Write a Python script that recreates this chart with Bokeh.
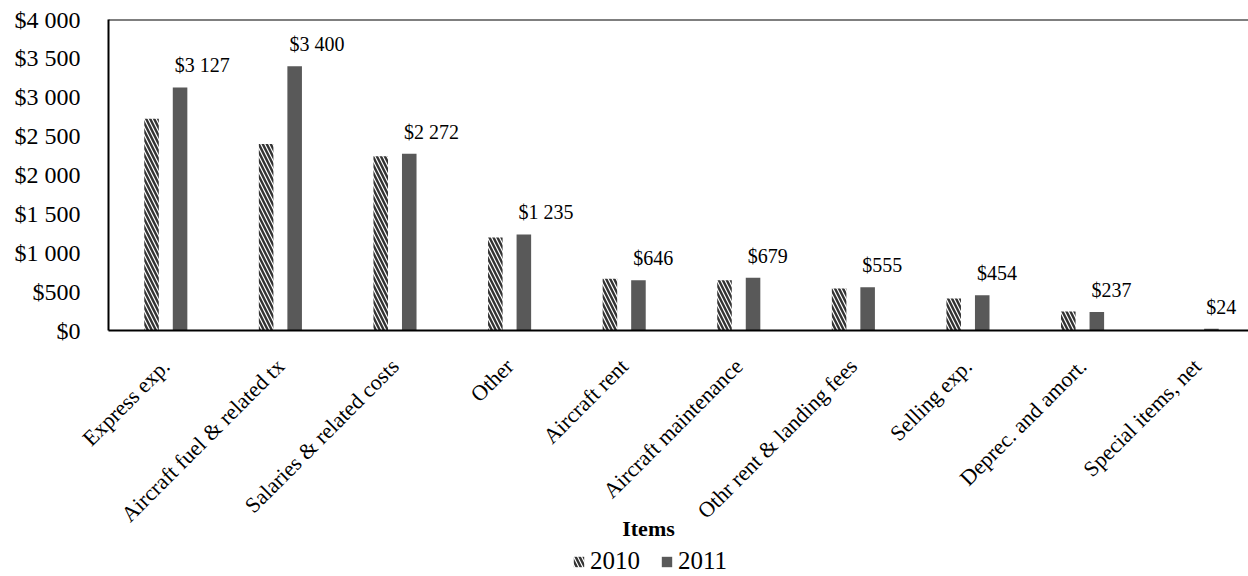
import math

from bokeh.core.properties import value
from bokeh.embed import file_html
from bokeh.layouts import column
from bokeh.models import (ColumnDataSource, FixedTicker, Label, Legend,
                          LegendItem, Span)
from bokeh.plotting import figure
from bokeh.resources import INLINE
from bokeh.transform import dodge

# Operating expense items (in $ millions)
items = [
    "Express exp.",
    "Aircraft fuel & related tx",
    "Salaries & related costs",
    "Other",
    "Aircraft rent",
    "Aircraft maintenance",
    "Othr rent & landing fees",
    "Selling exp.",
    "Deprec. and amort.",
    "Special items, net",
]
values_2010 = [2725, 2400, 2240, 1195, 665, 645, 540, 410, 245, 0]
values_2011 = [3127, 3400, 2272, 1235, 646, 679, 555, 454, 237, 24]

y_ticks = [0, 500, 1000, 1500, 2000, 2500, 3000, 3500, 4000]
y_tick_labels = ["$0", "$500", "$1 000", "$1 500", "$2 000",
                 "$2 500", "$3 000", "$3 500", "$4 000"]
years = ["2010", "2011"]

FONT = "Liberation Serif"
BAR_COLOR = "#595959"
HATCH = dict(fill_color="white", line_color=None, hatch_pattern="\\",
             hatch_color="#333333", hatch_scale=8, hatch_weight=2.4)
SOLID = dict(fill_color=BAR_COLOR, line_color=None)
BAR_W = 0.127
OFFSET = 0.1245


def money(v):
    return "$" + f"{v:,}".replace(",", " ")


src = ColumnDataSource(dict(
    x=list(range(len(items))),
    v2010=values_2010,
    v2011=values_2011,
    lbl=[money(v) for v in values_2011],
))

p = figure(width=1248, height=539, frame_width=1140, frame_height=311,
           output_backend="svg", toolbar_location=None,
           x_range=(-0.5, 9.448), y_range=(0, 4000),
           min_border_left=108, min_border_right=0, min_border_top=19,
           min_border_bottom=0)
p.outline_line_color = None
p.xgrid.visible = False
p.ygrid.visible = False
p.background_fill_color = "white"
p.border_fill_color = "white"

p.vbar(x=dodge("x", -OFFSET), top="v2010", width=BAR_W, source=src, **HATCH)
p.vbar(x=dodge("x", OFFSET), top="v2011", width=BAR_W, source=src, **SOLID)

# value labels above the 2011 bars
p.text(x=dodge("x", OFFSET - BAR_W / 2), y="v2011", text="lbl", source=src,
       x_offset=2, y_offset=-11, text_align="left", text_baseline="bottom",
       text_font=value(FONT), text_font_size="20px", text_color="black")

# top border line of the plot area
p.add_layout(Span(location=4000, dimension="width", line_color="black",
                  line_width=2))

# y axis
ya = p.yaxis[0]
ya.ticker = FixedTicker(ticks=y_ticks)
ya.major_label_overrides = {t: s for t, s in zip(y_ticks, y_tick_labels)}
ya.major_label_text_font = FONT
ya.major_label_text_font_size = "24px"
ya.major_label_text_color = "black"
ya.major_tick_line_color = None
ya.minor_tick_line_color = None
ya.major_label_standoff = 22
ya.axis_line_color = "black"
ya.axis_line_width = 2

# x axis
xa = p.xaxis[0]
xa.ticker = FixedTicker(ticks=list(range(len(items))))
xa.major_label_overrides = {i: s for i, s in enumerate(items)}
xa.major_label_orientation = math.pi / 4
xa.major_label_text_font = FONT
xa.major_label_text_font_size = "22px"
xa.major_label_text_color = "black"
xa.major_tick_line_color = None
xa.minor_tick_line_color = None
xa.major_label_standoff = 26
xa.axis_line_color = "black"
xa.axis_line_width = 2

# strip below the chart: axis title and legend (pulled up over the
# empty space under the category labels)
leg = figure(width=1248, height=56, output_backend="svg",
             toolbar_location=None, x_axis_location=None,
             y_axis_location=None, min_border=0,
             x_range=p.x_range, y_range=(5000, 6000),
             margin=(-19, 0, 0, 0))
leg.outline_line_color = None
leg.grid.visible = False
leg.background_fill_alpha = 0
leg.border_fill_alpha = 0
k2010 = leg.vbar(x=dodge("x", -OFFSET), top="v2010", width=BAR_W,
                 source=src, visible=False, **HATCH)
k2011 = leg.vbar(x=dodge("x", OFFSET), top="v2011", width=BAR_W,
                 source=src, visible=False, **SOLID)

leg.add_layout(Label(x=540, y=47, x_units="screen", y_units="screen",
                     text="Items", text_align="center",
                     text_baseline="middle", text_font=FONT,
                     text_font_size="22px", text_font_style="bold",
                     text_color="black"))

legend = Legend(items=[LegendItem(label=years[0], renderers=[k2010]),
                       LegendItem(label=years[1], renderers=[k2011])],
                orientation="horizontal", location=(464, 0),
                label_text_font=FONT, label_text_font_size="25px",
                label_text_color="black",
                glyph_width=13, glyph_height=13, spacing=20,
                label_standoff=5, padding=0, margin=0,
                inactive_fill_alpha=0,
                border_line_color=None, background_fill_alpha=0)
leg.add_layout(legend, "center")

layout = column(p, leg, spacing=0)
open("out.html", "w").write(file_html(layout, INLINE))
